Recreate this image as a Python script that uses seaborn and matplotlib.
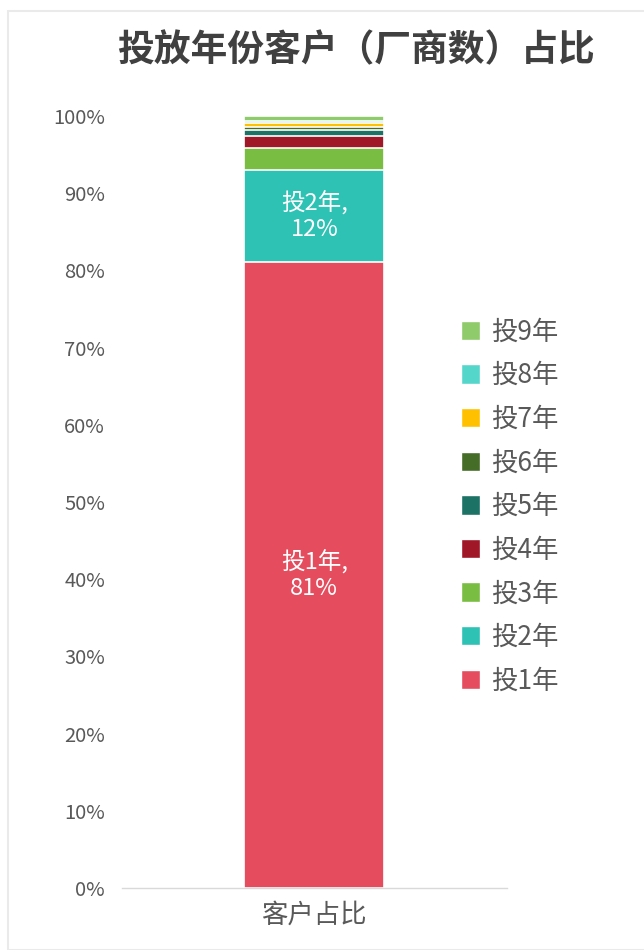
import numpy as np
import matplotlib
matplotlib.use('Agg')
import matplotlib.pyplot as plt
from matplotlib.patches import Patch
from matplotlib.ticker import PercentFormatter
import seaborn as sns

# Data (share of customers by years of ad placement)
category = '客户占比'
years = ['投1年', '投2年', '投3年', '投4年', '投5年', '投6年', '投7年', '投8年', '投9年']
shares = [0.811, 0.119, 0.029, 0.015, 0.008, 0.004, 0.005, 0.003, 0.006]
colors = ['#E54D5E', '#2EC2B5', '#79BD43', '#A01727', '#1C7265',
          '#466D28', '#FFC000', '#55D6CA', '#8FCB6A']
labelled = ['投1年', '投2年']

sns.set_theme(style='white')
plt.rcParams['font.family'] = ['Noto Sans CJK SC', 'DejaVu Sans']

fig = plt.figure(figsize=(6.44, 9.5), dpi=100)
ax = fig.add_axes([0.189, 0.0653, 0.598, 0.8127])

cum = np.cumsum(shares)
# draw cumulative bars from the tallest down so the stack shows through
for i in range(len(years) - 1, -1, -1):
    sns.barplot(x=[category], y=[cum[i]], color=colors[i], width=0.364,
                edgecolor='white', linewidth=1.2, saturation=1, ax=ax)

# data labels on the two big segments
for i, name in enumerate(years):
    if name in labelled:
        mid = cum[i] - shares[i] / 2
        ax.text(0, mid, f'{name},\n{shares[i]:.0%}', ha='center', va='center',
                color='white', fontsize=17, linespacing=1.15)

ax.set_ylim(0, 1)
ax.set_xlim(-0.5, 0.5)
ax.yaxis.set_major_locator(plt.MultipleLocator(0.1))
ax.yaxis.set_major_formatter(PercentFormatter(1.0, decimals=0))
ax.tick_params(axis='y', labelsize=14.5, labelcolor='#595959', length=0, pad=12)
ax.tick_params(axis='x', labelsize=19, labelcolor='#595959', length=0, pad=10)
ax.set_xlabel('')
ax.set_ylabel('')
for side in ['left', 'right', 'top']:
    ax.spines[side].set_visible(False)
ax.spines['bottom'].set_color('#D9D9D9')
ax.spines['bottom'].set_linewidth(1)

handles = [Patch(facecolor=c, label=n) for n, c in zip(years, colors)][::-1]
leg = ax.legend(handles=handles, loc='center left', bbox_to_anchor=(0.88, 0.494),
                frameon=False, fontsize=19, labelcolor='#595959',
                handlelength=0.75, handleheight=0.75, handletextpad=0.4,
                labelspacing=0.63, borderaxespad=0, borderpad=0)

fig.text(0.553, 0.947, '投放年份客户（厂商数）占比', ha='center', va='center',
         fontsize=26.5, fontweight='bold', color='#404040')

# faint chart border
fig.patches.append(plt.Rectangle((0.012, 0.0), 0.99, 0.988, transform=fig.transFigure,
                                 fill=False, edgecolor='#EAEAEA', linewidth=1.5))

fig.savefig('out.png', dpi=100)
